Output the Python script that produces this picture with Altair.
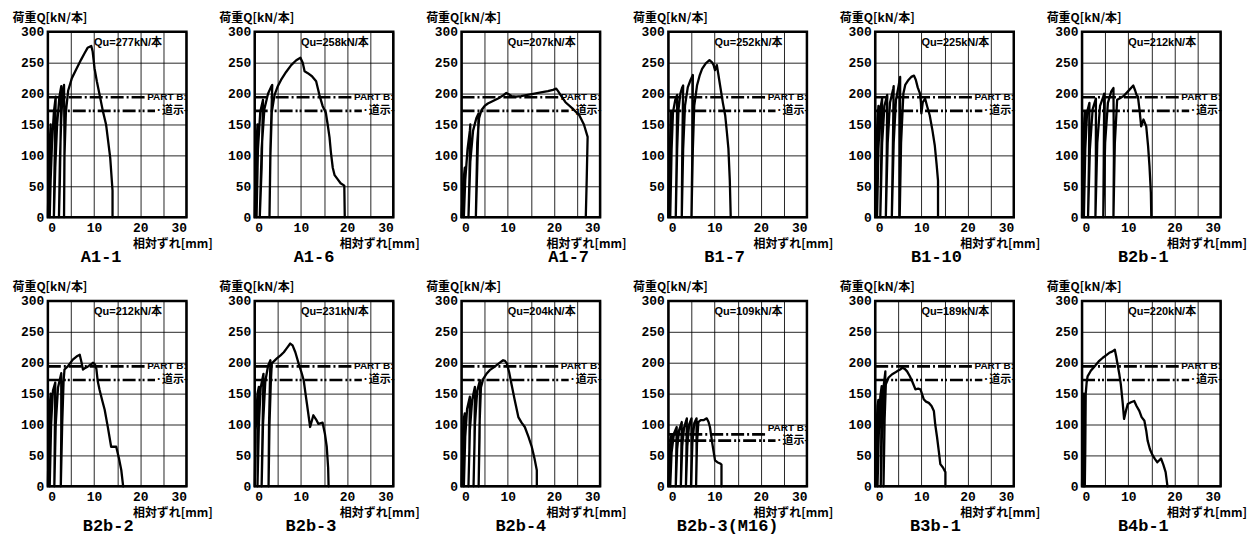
import altair as alt
import pandas as pd

# ---------------- data ----------------
PANELS = ["A1-1", "A1-6", "A1-7", "B1-7", "B1-10", "B2b-1",
          "B2b-2", "B2b-3", "B2b-4", "B2b-3(M16)", "B3b-1", "B4b-1"]
QU = [277, 258, 207, 252, 225, 212, 212, 231, 204, 109, 189, 220]
PART_B = [194, 194, 194, 194, 194, 194, 194, 194, 194, 84, 194, 194]
DOJI = [172, 172, 172, 172, 172, 172, 172, 172, 172, 74, 172, 172]

X_TICKS = [0, 5, 10, 15, 20, 25, 30]
Y_TICKS = [0, 50, 100, 150, 200, 250, 300]

A1_1_X = [0, 0.15, 0.4, 0.6, 0.5, 0.4, 0.6, 0.9, 1.3, 1.7, 1.6, 1.4, 1.3, 1.6, 2.0, 2.5, 2.9, 2.8, 2.6, 2.4,
          2.6, 2.9, 3.2, 3.5, 3.6, 3.5, 3.6, 3.9, 4.4, 5.2, 6.2, 7.2, 8.0, 8.6, 9.4, 9.7, 10.1, 10.6, 11.2,
          11.9, 12.6, 13.5, 14.0, 14.0]
A1_1_Y = [0, 60, 120, 150, 90, 0, 60, 120, 170, 195, 150, 60, 0, 80, 150, 195, 212, 150, 60, 0,
          90, 160, 200, 214, 120, 0, 100, 170, 205, 225, 240, 255, 266, 274, 277, 268, 241, 220, 198,
          172, 150, 96, 43, 0]

A1_6_X = [0, 0.2, 0.6, 0.5, 0.4, 0.7, 1.2, 1.8, 1.5, 1.1, 1.5, 2.1, 2.9, 3.5, 3.8, 3.4, 3.2,
          3.4, 3.7, 4.3, 5.0, 5.7, 6.8, 7.9, 9.0, 9.9, 10.4, 10.8, 11.5, 12.4, 13.3, 14.0, 14.7, 15.4,
          15.8, 16.2, 16.5, 16.9, 17.3, 17.9, 18.6, 19.4, 19.5]
A1_6_Y = [0, 90, 150, 60, 0, 110, 170, 190, 80, 0, 110, 175, 200, 210, 214, 110, 0,
          100, 170, 198, 212, 222, 235, 246, 254, 258, 250, 236, 233, 228, 220, 198, 180, 169,
          150, 129, 105, 80, 68, 62, 55, 51, 0]

A1_7_X = [0, 0.3, 0.7, 0.6, 0.5, 0.8, 1.3, 1.8, 1.9, 1.7, 1.5, 1.9, 2.5, 3.2, 3.7, 3.4, 3.1,
          3.4, 3.8, 4.3, 5.0, 5.7, 6.8, 7.9, 8.8, 9.7, 10.2, 10.8, 11.8, 12.9, 14.3, 15.8, 17.2,
          18.7, 19.8, 20.5, 20.9, 21.6, 22.5, 24.0, 25.5, 26.5, 27.3, 27.1, 26.9]
A1_7_Y = [0, 50, 80, 30, 0, 60, 110, 140, 150, 60, 0, 90, 140, 160, 168, 80, 0,
          120, 160, 173, 180, 184, 188, 192, 196, 201, 199, 196, 195, 196, 198, 200, 202,
          204, 206, 208, 204, 196, 186, 176, 165, 150, 130, 60, 0]

B1_7_X = [0, 0.2, 0.5, 0.6, 0.5, 0.4, 0.7, 1.0, 1.5, 1.9, 1.8, 1.6, 1.9, 2.2, 2.6, 3.0, 3.2, 3.0, 2.9,
          3.2, 3.6, 4.2, 4.8, 5.3, 5.2, 5.0, 5.3, 5.6, 6.2, 6.8, 7.3, 8.1, 8.9, 9.5, 9.8, 10.1, 10.5,
          10.8, 11.2, 11.8, 12.3, 12.7, 13.0, 13.3, 13.5]
B1_7_Y = [0, 90, 150, 170, 80, 0, 110, 170, 190, 198, 100, 0, 110, 175, 200, 210, 213, 100, 0,
          110, 180, 210, 222, 230, 110, 0, 110, 180, 213, 230, 240, 249, 254, 250, 246, 238, 246,
          232, 213, 185, 165, 135, 111, 60, 0]

B1_10_X = [0, 0.2, 0.5, 0.7, 0.6, 0.4, 0.7, 1.1, 1.5, 1.3, 1.1, 1.5, 2.0, 2.6, 2.5, 2.3,
           2.7, 3.2, 3.9, 4.0, 3.8, 3.6, 4.0, 4.5, 5.0, 5.4, 5.4, 5.3, 5.6, 6.1, 6.5, 7.2, 7.8, 8.4,
           8.8, 9.2, 9.7, 9.9, 10.0, 10.3, 10.8, 11.3, 11.8, 12.4, 12.9, 13.3, 13.6, 13.6]
B1_10_Y = [0, 100, 160, 180, 80, 0, 110, 175, 192, 90, 0, 120, 180, 198, 100, 0,
           120, 185, 208, 212, 100, 0, 120, 190, 210, 227, 110, 0, 120, 200, 214, 222, 227, 229,
           222, 210, 200, 185, 168, 186, 192, 178, 165, 140, 116, 85, 59, 0]

B2b_1_X = [0, 0.2, 0.5, 0.6, 0.5, 0.4, 0.7, 1.1, 1.6, 1.5, 1.3, 1.7, 2.3, 3.0, 3.0, 2.9,
           3.3, 3.9, 4.7, 4.8, 4.7, 4.6, 5.0, 5.6, 6.3, 6.8, 6.9, 6.8, 7.1, 7.6, 8.3, 9.0, 10.0,
           11.1, 11.5, 11.8, 12.1, 12.5, 12.8, 13.3, 13.9, 14.3, 14.6, 14.9, 15.0]
B2b_1_Y = [0, 100, 160, 170, 80, 0, 110, 170, 185, 90, 0, 110, 175, 192, 90, 0,
           120, 180, 197, 200, 90, 0, 120, 185, 203, 209, 100, 0, 120, 190, 193, 196, 204,
           213, 205, 198, 195, 170, 147, 158, 147, 115, 83, 40, 0]

B2b_2_X = [0, 0.2, 0.5, 0.6, 0.5, 0.4, 0.7, 1.1, 1.6, 1.5, 1.4, 1.7, 2.2, 2.9, 2.9, 2.8,
           3.1, 3.4, 3.6, 4.3, 5.4, 6.2, 6.9, 7.3, 7.6, 8.2, 8.7, 9.3, 9.8, 10.2, 10.5, 10.8,
           11.2, 11.8, 12.3, 13.0, 13.7, 14.8, 15.4, 15.9, 16.3]
B2b_2_Y = [0, 90, 140, 150, 70, 0, 100, 155, 168, 80, 0, 100, 160, 183, 90, 0,
           100, 170, 189, 194, 205, 210, 213, 200, 189, 192, 194, 197, 200, 197, 190, 170,
           156, 138, 124, 95, 64, 64, 45, 26, 0]

B2b_3_X = [0, 0.2, 0.6, 0.9, 0.7, 0.6, 0.9, 1.3, 1.9, 1.7, 1.5, 1.8, 2.3, 2.9, 3.4, 3.1, 3.0,
           3.2, 3.5, 3.7, 4.8, 5.6, 6.3, 7.0, 7.7, 8.2, 8.8, 9.5, 10.1, 10.6, 11.0, 11.3, 12.0,
           12.7, 13.3, 13.8, 14.7, 15.2, 15.6, 15.9, 16.0]
B2b_3_Y = [0, 90, 150, 161, 70, 0, 100, 160, 182, 90, 0, 100, 170, 195, 204, 100, 0,
           100, 170, 199, 207, 212, 217, 224, 231, 228, 217, 199, 185, 172, 150, 134, 96,
           115, 108, 101, 103, 85, 64, 30, 0]

B2b_4_X = [0, 0.2, 0.5, 0.7, 0.6, 0.5, 0.8, 1.2, 1.8, 1.7, 1.5, 1.8, 2.3, 2.9, 2.8, 2.6,
           2.9, 3.4, 4.0, 3.9, 3.7, 3.9, 4.2, 4.7, 5.4, 6.1, 6.9, 7.6, 8.3, 9.0, 9.4, 9.8, 10.3,
           10.8, 11.5, 12.3, 13.0, 13.7, 14.5, 15.2, 15.8, 16.3, 16.3]
B2b_4_Y = [0, 70, 110, 118, 50, 0, 80, 125, 145, 60, 0, 90, 140, 161, 70, 0,
           100, 155, 172, 80, 0, 100, 160, 174, 182, 188, 192, 196, 200, 204, 203, 199, 185,
           166, 140, 112, 103, 96, 80, 64, 45, 26, 0]

B2b_3M16_X = [0, 0.2, 0.5, 0.7, 0.5, 0.4, 0.7, 1.2, 1.8, 1.7, 1.6, 1.9, 2.3, 2.9, 2.8, 2.7,
              3.0, 3.4, 4.0, 3.9, 3.8, 4.1, 4.5, 5.0, 5.0, 4.9, 5.2, 5.6, 6.1, 6.1, 6.0,
              6.2, 6.5, 7.0, 7.6, 8.3, 8.7, 9.0, 9.5, 10.1, 10.6, 11.2, 11.5, 11.5]
B2b_3M16_Y = [0, 50, 78, 83, 40, 0, 55, 85, 96, 45, 0, 60, 90, 104, 50, 0,
              65, 95, 110, 50, 0, 65, 100, 110, 50, 0, 70, 102, 110, 50, 0,
              70, 104, 107, 107, 110, 104, 96, 70, 42, 39, 37, 35, 0]

B3b_1_X = [0, 0.2, 0.5, 0.7, 0.6, 0.5, 0.8, 1.1, 1.4, 1.3, 1.2, 1.5, 1.8, 2.2, 2.0, 1.8,
           2.0, 2.3, 2.9, 3.6, 4.3, 4.9, 5.4, 5.9, 6.4, 6.9, 7.5, 8.0, 8.7, 9.3, 9.8, 10.2, 10.5,
           11.0, 11.6, 12.2, 12.7, 13.0, 13.4, 13.8, 14.1, 14.7, 15.2, 15.2]
B3b_1_Y = [0, 80, 130, 140, 60, 0, 90, 145, 162, 70, 0, 100, 160, 186, 90, 0,
           100, 165, 176, 181, 184, 187, 189, 192, 190, 186, 178, 170, 157, 158, 157, 148, 141,
           137, 135, 130, 122, 100, 79, 55, 36, 30, 23, 0]

B4b_1_X = [0, 0.15, 0.3, 0.4, 0.35, 0.3, 0.45, 0.6, 0.8, 0.7, 0.6,
           0.7, 0.8, 1.0, 1.2, 1.9, 2.7, 3.6, 4.5, 5.2, 5.9, 6.5, 7.1, 7.4, 7.7, 8.1, 8.4, 8.8,
           9.1, 9.5, 9.9, 10.6, 11.3, 11.8, 12.4, 12.9, 13.5, 13.9, 14.2, 14.7, 15.3, 15.8, 16.3,
           17.1, 17.6, 18.1, 18.5]
B4b_1_Y = [0, 80, 130, 150, 60, 0, 80, 130, 150, 60, 0,
           100, 150, 168, 178, 187, 194, 202, 208, 212, 216, 218, 221, 210, 197, 180, 165, 135,
           109, 122, 133, 136, 138, 130, 122, 112, 106, 90, 74, 60, 50, 44, 39,
           45, 35, 23, 0]

CURVES_X = [A1_1_X, A1_6_X, A1_7_X, B1_7_X, B1_10_X, B2b_1_X,
            B2b_2_X, B2b_3_X, B2b_4_X, B2b_3M16_X, B3b_1_X, B4b_1_X]
CURVES_Y = [A1_1_Y, A1_6_Y, A1_7_Y, B1_7_Y, B1_10_Y, B2b_1_Y,
            B2b_2_Y, B2b_3_Y, B2b_4_Y, B2b_3M16_Y, B3b_1_Y, B4b_1_Y]

# annotation anchors (data units)
QU_POS = (10, 282)
PARTB_END = 21.3
DOJI_END = 23.2
PART_B_LABEL_Y = [194, 194, 194, 194, 194, 194, 194, 194, 194, 95, 194, 194]

# layout (not data): horizontal shift of each panel caption
TITLE_DX = [-16, -10, 38, -13, -8, -8, -9, -13, -10, -10, -9, -8]

BLACK = "#000000"
CJK = "Noto Sans CJK JP"


def make_panel(k):
    xs, ys = CURVES_X[k], CURVES_Y[k]
    df = pd.DataFrame({"x": xs, "y": ys, "o": list(range(len(xs)))})
    xe = alt.X("x:Q", scale=alt.Scale(domain=[0, 30], nice=False, zero=False),
               axis=alt.Axis(values=X_TICKS, title="相対ずれ[mm]",
                             labelExpr="datum.value % 10 == 0 ? datum.label : ''"))
    ye = alt.Y("y:Q", scale=alt.Scale(domain=[0, 300], nice=False, zero=False),
               axis=alt.Axis(values=Y_TICKS, title="荷重Q[kN/本]"))

    curve = alt.Chart(df).mark_line(color=BLACK, strokeWidth=2.3, strokeJoin="round",
                                    strokeCap="round").encode(x=xe, y=ye, order="o:Q")

    pb = pd.DataFrame({"x": [0], "x2": [PARTB_END], "y": [PART_B[k]]})
    dj = pd.DataFrame({"x": [0], "x2": [DOJI_END], "y": [DOJI[k]]})
    rule_pb = alt.Chart(pb).mark_rule(color=BLACK, strokeWidth=2.6,
                                      strokeDash=[13, 3, 2, 3]).encode(x=xe, x2="x2:Q", y=ye)
    rule_dj = alt.Chart(dj).mark_rule(color=BLACK, strokeWidth=2.6,
                                      strokeDash=[13, 3, 2, 2, 2, 3]).encode(x=xe, x2="x2:Q", y=ye)

    lab_pb = alt.Chart(pd.DataFrame({"x": [PARTB_END + 0.2], "y": [PART_B_LABEL_Y[k]],
                                     "t": ["PART B:"]})) \
        .mark_text(align="left", baseline="middle", font="Liberation Sans", fontSize=10,
                   fontWeight="bold", color=BLACK).encode(x=xe, y=ye, text="t:N")
    lab_dj = alt.Chart(pd.DataFrame({"x": [DOJI_END + 0.1], "y": [DOJI[k]], "t": ["·道示-"]})) \
        .mark_text(align="left", baseline="middle", font=CJK, fontSize=11,
                   fontWeight="bold", color=BLACK).encode(x=xe, y=ye, text="t:N")
    qu = alt.Chart(pd.DataFrame({"x": [QU_POS[0]], "y": [QU_POS[1]],
                                 "t": [f"Qu={QU[k]}kN/本"]})) \
        .mark_text(align="left", baseline="middle", font="Liberation Sans, Noto Sans CJK JP",
                   fontSize=11, fontWeight="bold", color=BLACK).encode(x=xe, y=ye, text="t:N")

    return alt.layer(curve, rule_pb, rule_dj, lab_pb, lab_dj, qu).properties(
        width=139, height=186,
        title=alt.TitleParams(text=PANELS[k], orient="bottom", anchor="middle",
                              dx=TITLE_DX[k], offset=0, font="Liberation Mono",
                              fontSize=17, fontWeight="bold", color=BLACK))


chart = alt.concat(*[make_panel(k) for k in range(12)], columns=6,
                   spacing={"row": 84, "column": 68.5}, bounds="flush").properties(
    padding={"left": 2, "top": 1, "right": 2, "bottom": 2},
    background="white",
).configure_view(
    stroke=BLACK, strokeWidth=2.5
).configure_axis(
    grid=True, gridColor=BLACK, gridWidth=1, gridOpacity=0.85,
    domain=False, ticks=False,
    labelFont="Liberation Mono", labelFontSize=13, labelFontWeight="bold",
    labelColor=BLACK, labelPadding=4,
    titleFont=CJK, titleFontSize=12, titleFontWeight="bold", titleColor=BLACK,
).configure_axisX(
    labelFlush=True, titleX=165, titleY=26, titleAlign="right", titleBaseline="middle",
    titleAngle=0,
).configure_axisY(
    titleX=-36, titleY=-14, titleAlign="left", titleBaseline="middle", titleAngle=0,
)

chart.save("out.html", embed_options={"renderer": "svg", "actions": False})
